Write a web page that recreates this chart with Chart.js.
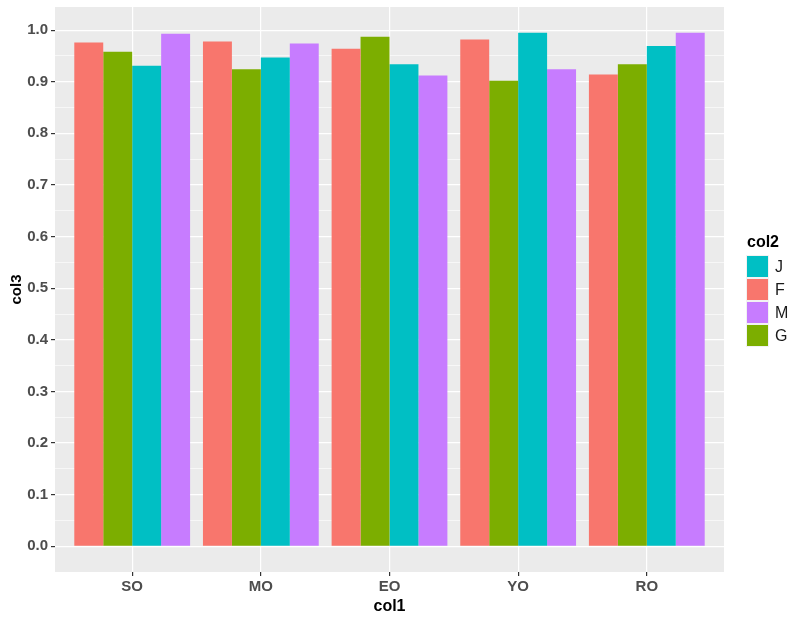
<!DOCTYPE html>
<html>
<head>
<meta charset="utf-8">
<script src="https://cdn.jsdelivr.net/npm/chart.js@4"></script>
<style>
  html, body { margin: 0; padding: 0; background: #ffffff; }
  #wrap { width: 804px; height: 623px; }
</style>
</head>
<body>
<div id="wrap"><canvas id="chart-bars" width="804" height="623"></canvas></div>
<script>
let categories = ["SO", "MO", "EO", "YO", "RO"];
let seriesNames = ["F", "G", "J", "M"];
let fValues = [0.976, 0.978, 0.964, 0.982, 0.914];
let gValues = [0.958, 0.924, 0.987, 0.902, 0.934];
let jValues = [0.931, 0.947, 0.934, 0.995, 0.969];
let mValues = [0.993, 0.974, 0.912, 0.924, 0.995];
let yMajorTicks = [0, 0.1, 0.2, 0.3, 0.4, 0.5, 0.6, 0.7, 0.8, 0.9, 1.0];
let yMinorTicks = [0.05, 0.15, 0.25, 0.35, 0.45, 0.55, 0.65, 0.75, 0.85, 0.95];
let legendOrder = ["J", "F", "M", "G"];

let colors = { F: "#F8766D", G: "#7CAE00", J: "#00BFC4", M: "#C77CFF" };
let allValues = { F: fValues, G: gValues, J: jValues, M: mValues };

function isMinor(v) {
  return Math.round(v * 100) % 10 !== 0;
}

function make_dataset(name) {
  return {
    label: name,
    data: allValues[name].map(function(v, i) {
      return { x: i + 1, y: v };
    }),
    backgroundColor: colors[name],
    borderWidth: 0,
    categoryPercentage: 0.9,
    barPercentage: 1.0
  };
}

let panelBackground = {
  id: "panelBackground",
  beforeDraw: function(chart) {
    let ctx = chart.ctx;
    let a = chart.chartArea;
    ctx.save();
    ctx.fillStyle = "#ffffff";
    ctx.fillRect(0, 0, chart.width, chart.height);
    ctx.fillStyle = "#EBEBEB";
    ctx.fillRect(a.left, a.top, a.right - a.left, a.bottom - a.top);
    ctx.restore();
  }
};

let sideLegend = {
  id: "sideLegend",
  afterDraw: function(chart) {
    let ctx = chart.ctx;
    let x = 747;
    let top = 256;
    let size = 21;
    let step = 23;
    ctx.save();
    ctx.fillStyle = "#000000";
    ctx.font = "bold 16px 'Liberation Sans', Arial, sans-serif";
    ctx.textBaseline = "alphabetic";
    ctx.textAlign = "left";
    ctx.fillText("col2", x, 246.5);
    ctx.font = "16px 'Liberation Sans', Arial, sans-serif";
    ctx.textBaseline = "middle";
    legendOrder.forEach(function(name, i) {
      let ds = chart.data.datasets.find(function(d) { return d.label === name; });
      let y = top + i * step;
      ctx.fillStyle = "#F2F2F2";
      ctx.fillRect(x - 1, y - 1, size + 2, size + 2);
      ctx.fillStyle = ds.backgroundColor;
      ctx.fillRect(x, y, size, size);
      ctx.fillStyle = "#1A1A1A";
      ctx.fillText(name, x + size + 7, y + size / 2 + 1);
    });
    ctx.restore();
  }
};

let ctx = document.getElementById("chart-bars").getContext("2d");
window.myBars = new Chart(ctx, {
  type: "bar",
  data: {
    datasets: seriesNames.map(make_dataset)
  },
  options: {
    responsive: false,
    animation: false,
    devicePixelRatio: 1,
    layout: { padding: { left: 0, top: 7, right: 80, bottom: 0 } },
    plugins: {
      legend: { display: false },
      tooltip: { enabled: false }
    },
    scales: {
      x: {
        type: "linear",
        min: 0.4,
        max: 5.6,
        offset: false,
        afterBuildTicks: function(axis) {
          axis.ticks = categories.map(function(c, i) {
            return { value: i + 1 };
          });
        },
        afterFit: function(axis) {
          axis.height = 51;
          axis.paddingLeft = 0;
          axis.paddingRight = 0;
        },
        border: { display: false },
        grid: {
          offset: false,
          color: "#ffffff",
          lineWidth: 1.2,
          tickLength: 4,
          tickColor: "#333333"
        },
        ticks: {
          autoSkip: false,
          maxRotation: 0,
          padding: 2,
          color: "#4D4D4D",
          font: { family: "'Liberation Sans', Arial, sans-serif", size: 15, weight: "bold" },
          callback: function(value) {
            return categories[value - 1] || "";
          }
        },
        title: {
          display: true,
          text: "col1",
          color: "#000000",
          padding: { top: 0, bottom: 6.7 },
          font: { family: "'Liberation Sans', Arial, sans-serif", size: 16, weight: "bold" }
        }
      },
      y: {
        min: -0.04975,
        max: 1.04475,
        afterBuildTicks: function(axis) {
          axis.ticks = yMajorTicks.concat(yMinorTicks).sort(function(a, b) {
            return a - b;
          }).map(function(v) {
            return { value: v };
          });
        },
        afterFit: function(axis) {
          axis.width = 55;
          axis.paddingTop = 0;
          axis.paddingBottom = 0;
        },
        border: { display: false },
        grid: {
          color: "#ffffff",
          lineWidth: function(c) {
            return isMinor(c.tick.value) ? 0.6 : 1.2;
          },
          tickLength: 4,
          tickColor: function(c) {
            return isMinor(c.tick.value) ? "rgba(0,0,0,0)" : "#333333";
          }
        },
        ticks: {
          autoSkip: false,
          padding: 3,
          color: "#4D4D4D",
          font: { family: "'Liberation Sans', Arial, sans-serif", size: 15, weight: "bold" },
          callback: function(value) {
            return isMinor(value) ? "" : value.toFixed(1);
          }
        },
        title: {
          display: true,
          text: "col3",
          color: "#000000",
          padding: { top: 7.5, bottom: 0 },
          font: { family: "'Liberation Sans', Arial, sans-serif", size: 15, weight: "bold" }
        }
      }
    }
  },
  plugins: [panelBackground, sideLegend]
});
</script>
</body>
</html>
